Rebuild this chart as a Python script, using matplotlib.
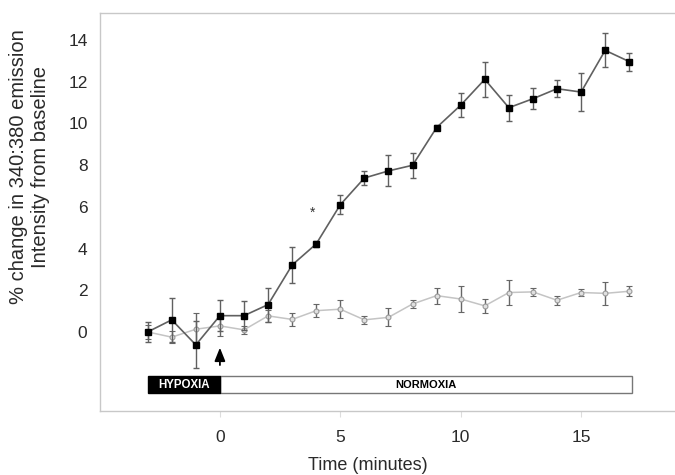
import matplotlib
matplotlib.use("Agg")
import matplotlib.pyplot as plt
from matplotlib.patches import Rectangle

plt.rcParams['font.family'] = ['Liberation Sans', 'DejaVu Sans']

time_min = [-3, -2, -1, 0, 1, 2, 3, 4, 5, 6, 7, 8, 9, 10, 11, 12, 13, 14, 15, 16, 17]
black_vals = [0.0, 0.58, -0.62, 0.78, 0.78, 1.31, 3.21, 4.22, 6.1, 7.38, 7.72, 7.99,
              9.8, 10.87, 12.11, 10.75, 11.18, 11.66, 11.5, 13.5, 12.96]
black_err = [0.49, 1.07, 1.13, 0.74, 0.7, 0.82, 0.86, 0.15, 0.45, 0.35, 0.74, 0.6,
             0.1, 0.57, 0.85, 0.63, 0.5, 0.4, 0.9, 0.82, 0.43]
grey_vals = [0.0, -0.25, 0.13, 0.29, 0.1, 0.77, 0.6, 1.02, 1.09, 0.58, 0.7, 1.34,
             1.74, 1.58, 1.25, 1.89, 1.92, 1.52, 1.89, 1.85, 1.95]
grey_err = [0.35, 0.3, 0.8, 0.5, 0.2, 0.3, 0.3, 0.3, 0.43, 0.2, 0.43, 0.2,
            0.39, 0.64, 0.32, 0.62, 0.2, 0.22, 0.15, 0.54, 0.25]
x_ticks = [0, 5, 10, 15]
y_ticks = [0, 2, 4, 6, 8, 10, 12, 14]
hypoxia_span = (-3, 0)
normoxia_span = (0, 17.1)
star_pos = (3.86, 5.7)

fig = plt.figure(figsize=(6.75, 4.75), dpi=100)
ax = fig.add_axes([100/675, 64/475, 575/675, 398/475])
ax.set_xlim(-4.98, 18.9)
ax.set_ylim(-3.79, 15.29)

ax.errorbar(time_min, grey_vals, yerr=grey_err, color='#c4c4c4', lw=1.1,
            marker='o', ms=3.5, mfc='#e0e0e0', mec='#999999', mew=0.8,
            ecolor='#666666', elinewidth=1.0, capsize=2.5, capthick=1.0, zorder=2)
ax.errorbar(time_min, black_vals, yerr=black_err, color='#606060', lw=1.2,
            marker='s', ms=4, mfc='black', mec='black',
            ecolor='#606060', elinewidth=1.0, capsize=2.5, capthick=1.0, zorder=3)

ax.text(star_pos[0], star_pos[1], '*', ha='center', va='center', fontsize=10, color='#333333')

ax.annotate('', xy=(0, -0.62), xytext=(0, -1.72),
            arrowprops=dict(arrowstyle='-|>,head_width=0.32,head_length=0.8',
                            color='black', lw=1.3))

bar_bottom, bar_top = -2.95, -2.1
ax.add_patch(Rectangle((normoxia_span[0], bar_bottom), normoxia_span[1] - normoxia_span[0],
                       bar_top - bar_bottom, facecolor='white', edgecolor='#777777', lw=1.0, zorder=2))
ax.add_patch(Rectangle((hypoxia_span[0], bar_bottom), hypoxia_span[1] - hypoxia_span[0],
                       bar_top - bar_bottom, facecolor='black', edgecolor='black', lw=1.0, zorder=3))
ax.text(sum(hypoxia_span)/2, (bar_bottom + bar_top)/2, 'HYPOXIA', color='white',
        fontweight='bold', fontsize=8.3, ha='center', va='center', zorder=4)
ax.text(sum(normoxia_span)/2, (bar_bottom + bar_top)/2, 'NORMOXIA', color='black',
        fontweight='bold', fontsize=8.0, ha='center', va='center', zorder=4)

for s in ['left', 'top', 'bottom']:
    ax.spines[s].set_color('#c8c8c8')
    ax.spines[s].set_linewidth(1.0)
ax.spines['right'].set_visible(False)

ax.set_xticks(x_ticks)
ax.set_yticks(y_ticks)
ax.tick_params(axis='x', length=4, color='#dddddd', pad=10, labelsize=12.5, labelcolor='#2a2a2a')
ax.tick_params(axis='y', length=0, pad=9, labelsize=12.5, labelcolor='#2a2a2a')

fig.text(30/675, 1 - 167/475, '% change in 340:380 emission\nIntensity from baseline',
         rotation=90, ha='center', va='center', multialignment='center',
         fontsize=14.5, color='#2a2a2a', linespacing=1.2)
fig.text(368/675, 1 - 465/475, 'Time (minutes)', ha='center', va='center',
         fontsize=13, color='#2a2a2a')

fig.savefig('out.png', dpi=100)
